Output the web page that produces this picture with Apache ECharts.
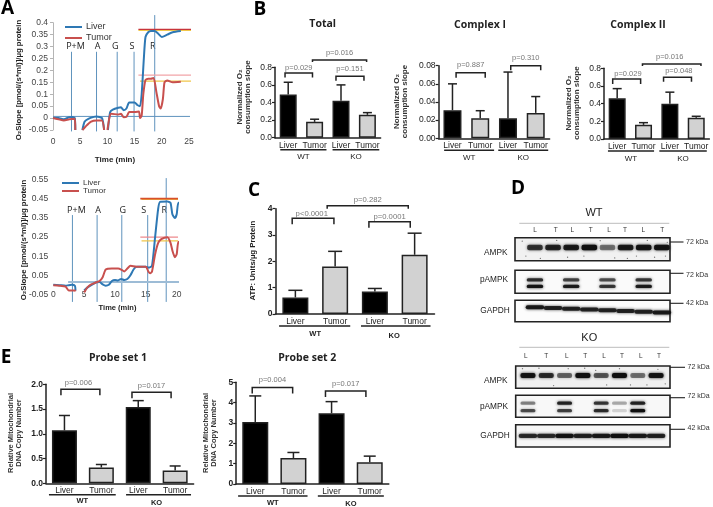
<!DOCTYPE html>
<html><head><meta charset="utf-8">
<style>html,body{margin:0;padding:0;background:#fff}#c{width:713px;height:507px}</style>
<script src="https://cdn.jsdelivr.net/npm/echarts@6/dist/echarts.min.js"></script>
</head><body><div id="c"></div>
<script>
// ---------- Panel A data ----------
const a1Liver=[[0,0],[1,0],[2,-0.005],[3,0.004],[3.6,0.005],[4,0],[4.1,-0.05],[4.2,null],[5.4,-0.05],[5.8,-0.015],[6.5,-0.003],[7.5,0.005],[8,0.007],[9,0],[9.4,-0.05],[9.6,null],[10.1,-0.05],[10.5,0.025],[11,0.035],[12,0.043],[12.5,0.045],[13,0.033],[13.5,0.04],[14,0.065],[15,0.065],[15.5,0.055],[16,0.05],[16.3,0.1],[16.7,0.25],[17,0.34],[17.5,0.36],[18,0.365],[18.7,0.365],[19.3,0.355],[20,0.34],[21,0.35],[22,0.36],[23.5,0.365]];
const a1Tumor=[[0,0],[1,-0.005],[2,-0.01],[3,-0.005],[4,-0.003],[4.1,-0.05],[4.2,null],[5.4,-0.05],[6,-0.035],[7,-0.015],[8,-0.01],[9,-0.01],[9.4,-0.05],[9.6,null],[10,-0.05],[10.4,0.005],[10.7,0.018],[12,0.015],[12.5,0.018],[13,0.003],[13.5,0.005],[14,0.025],[15,0.025],[15.8,0.028],[16,0],[16.3,0.01],[16.6,0.1],[17,0.16],[17.5,0.165],[18,0.165],[18.5,0.168],[19,0.11],[19.5,0.05],[19.8,0.04],[20.2,0.08],[20.5,0.15],[21,0.158],[22,0.15],[23.5,0.152]];
const a1Events=[[3.4,0.278],[8,0.278],[11.8,0.278],[14.9,0.278],[18.7,0.432]];
const a1EventNames=['P+M','A','G','S','R'];
const a2Liver=[[0,0],[1,-0.002],[2,-0.005],[2.5,-0.002],[3,0],[3.5,-0.005],[3.6,-0.03],[3.65,null],[5,-0.03],[5.5,-0.015],[6.5,0.005],[7,0.013],[7.5,0.015],[8,0.002],[8.5,-0.005],[9,0],[9.5,0.02],[10,0.025],[10.5,0.023],[11,0.03],[11.5,0.025],[12,0.03],[12.5,0.05],[13,0.08],[13.5,0.095],[15,0.095],[15.5,0.09],[16,0.1],[16.5,0.25],[17,0.4],[17.3,0.435],[18.5,0.437],[19,0.43],[19.3,0.37],[19.7,0.35],[20,0.37],[20.3,0.43],[21.5,0.43]];
const a2Tumor=[[0,-0.003],[1,-0.005],[2,-0.01],[2.5,-0.03],[3.5,-0.03],[3.6,-0.035],[3.65,null],[5,-0.04],[5.5,-0.015],[6,0],[7,0.013],[7.5,0.02],[8,0.04],[8.5,0.08],[9.5,0.085],[10.5,0.085],[11,0.08],[11.5,0.07],[12,0.085],[12.5,0.1],[13.5,0.095],[15,0.095],[15.4,0.07],[15.7,0.06],[16,0.07],[16.5,0.16],[17,0.22],[17.5,0.24],[18.5,0.25],[19,0.22],[19.3,0.18],[19.7,0.145],[20,0.16],[20.3,0.225],[21.5,0.228]];
const a2Events=[[3.1,0.366],[7.1,0.366],[11.1,0.366],[15.3,0.366],[18.3,0.56]];
const a2EventNames=['P+M','A','G','S','R'];
const a2TickLabels=[-0.05,0.05,0.15,0.25,0.35,0.45,0.55];

// ---------- Bar data ----------
const barCats=['Liver','Tumor','Liver','Tumor'];
const totalVals=[0.49,0.18,0.42,0.26],    totalTops=[0.63,0.21,0.6,0.285];
const cx1Vals=[0.031,0.022,0.022,0.028],  cx1Tops=[0.06,0.0304,0.073,0.046];
const cx2Vals=[0.46,0.16,0.4,0.24],       cx2Tops=[0.57,0.185,0.53,0.257];
const atpVals=[0.63,1.8,0.85,2.25],       atpTops=[0.9,2.38,0.97,3.07];
const p1Vals=[1.07,0.32,1.54,0.26],       p1Tops=[1.37,0.38,1.67,0.35];
const p2Vals=[3.05,1.28,3.48,1.07],       p2Tops=[4.33,1.55,4.05,1.37];

// ---------- Blot band intensities, per lane ----------
const wtAmpk=[0.75,0.85,0.9,1,0.5,0.9,0.95,0.95];
const wtPUp=[0.8,0,0.7,0,0.65,0,0.75,0];
const wtPLo=[0.95,0,0.9,0,0.75,0,0.9,0];
const wtGapdh=[0.9,0.85,0.85,0.85,0.85,0.85,0.85,0.9];
const koAmpk=[0.95,0.8,0.55,1,0.6,1,0.5,0.95];
const koPUp=[0.45,0,0.85,0,0.75,0.3,0.85,0];
const koPLo=[0.65,0,0.7,0,0.8,0.15,1,0];
const koGapdh=[0.8,0.8,0.95,0.85,0.9,1,0.9,0.85];
const laneLabels=['L','T','L','T','L','T','L','T'];
// dust specks seen on the AMPK membranes: [lane, depth]
const wtAmpkSpecks=[[-0.7,0.15],[-0.5,0.8],[0.3,0.9],[1.2,0.12],[1.8,0.85],[2.7,0.8],[3.6,0.13],[4.4,0.88],[5.1,0.9],[5.6,0.8],[6.2,0.12],[6.6,0.85],[7.2,0.8],[7.3,0.2]];
const koAmpkSpecks=[[-0.3,0.12],[0.6,0.1],[1.4,0.88],[2.2,0.12],[3.1,0.1],[3.7,0.2],[4.3,0.85],[5,0.12],[5.6,0.85],[6.5,0.85],[7.1,0.15],[7.5,0.8]];

const SANS='"Liberation Sans",Arial,sans-serif', HEAD='"Open Sans",sans-serif';
const grid=[],xAxis=[],yAxis=[],series=[],graphic=[],legend=[];
const BLUE='#2e78b4',RED='#c8504e',VL='#5f93bd';

function txt(text,x,y,font,fill,rot){graphic.push({type:'text',x,y,rotation:rot?Math.PI/2:0,silent:true,
  style:{text,font,fill:fill||'#222',textAlign:'center',textVerticalAlign:'middle'}});}
function hline(x1,x2,y,c,w){graphic.push({type:'line',silent:true,shape:{x1,y1:y,x2,y2:y},style:{stroke:c,lineWidth:w}});}

function lineSer(g,name,data,color,w,smooth){
  series.push({type:'line',name,xAxisIndex:g,yAxisIndex:g,data,showSymbol:false,smooth:smooth?0.2:false,clip:false,
    lineStyle:{color,width:w},itemStyle:{color},silent:true,connectNulls:false,z:smooth?3:2});
}
function linePanel(c){
  const g=grid.length;
  grid.push({left:c.left,top:c.top,width:c.width,height:c.height});
  xAxis.push({type:'value',gridIndex:g,min:0,max:c.xMax,interval:5,splitLine:{show:false},axisLine:{show:false},axisTick:{show:false},
    axisLabel:{color:'#444',fontSize:8.5,fontFamily:SANS,margin:c.xMargin}});
  yAxis.push({type:'value',gridIndex:g,min:-0.05,max:c.yMax,interval:0.05,splitLine:{show:false},
    axisLine:{show:c.yLine,onZero:false,lineStyle:{color:'#b5b5b5'}},axisTick:{show:c.yLine,length:3,lineStyle:{color:'#b5b5b5'}},
    axisLabel:{color:'#444',fontSize:8.5,fontFamily:SANS,margin:5,formatter:c.fmt}});
  c.events.forEach(e=>lineSer(g,'event',[[e[0],c.evLow],[e[0],e[1]]],VL,1));
  c.marks.forEach(m=>lineSer(g,'mark',[[m[0],m[2]],[m[1],m[2]]],m[3],m[4]||1.5));
  lineSer(g,'Liver',c.liver,BLUE,2,true);
  lineSer(g,'Tumor',c.tumor,RED,2,true);
  legend.push({left:c.lgX,top:c.lgY,orient:'vertical',data:['Liver','Tumor'],icon:'rect',itemWidth:17,itemHeight:2,itemGap:0,
    selectedMode:false,textStyle:{fontSize:c.lgFont,lineHeight:c.lgLine,height:c.lgLine,fontFamily:SANS,color:'#333',padding:[0,0,0,-1]},padding:0});
  c.names.forEach((n,i)=>{const xpx=c.left+c.width/c.xMax*c.events[i][0];txt(n,xpx+c.nameDx[i],c.nameY,'9px "Open Sans",sans-serif','#222');});
}

function barPanel(c){
  const g=grid.length,nameMax=c.max;
  grid.push({left:c.left,top:c.top,width:c.width,height:c.height});
  xAxis.push({type:'category',gridIndex:g,data:barCats,axisLine:{lineStyle:{color:'#222',width:1.5}},axisTick:{show:false},
    axisLabel:{color:'#222',fontSize:c.catFont||8.5,fontFamily:SANS,margin:c.catMargin||3,interval:0}});
  yAxis.push({type:'value',gridIndex:g,min:0,max:nameMax,interval:c.interval,splitLine:{show:false},
    axisLine:{show:true,lineStyle:{color:'#222',width:1.5}},axisTick:{show:true,length:3,lineStyle:{color:'#222',width:1.2}},
    axisLabel:{color:'#222',fontSize:c.yFont||8.5,fontFamily:SANS,margin:3,fontWeight:c.yBold?'bold':'normal',formatter:c.fmt}});
  series.push({type:'bar',name:'mean',xAxisIndex:g,yAxisIndex:g,barWidth:c.barW,silent:true,
    data:c.vals.map((v,i)=>({value:v,itemStyle:{color:i%2?'#d2d2d2':'#000',borderColor:'#222',borderWidth:1.5}}))});
  series.push({type:'custom',name:'annot',xAxisIndex:g,yAxisIndex:g,silent:true,clip:false,z:5,data:[[0,0]],encode:{x:0,y:1},
    renderItem:(p,api)=>{
      const kids=[];const a=api.coord([0,0]),step=api.coord([1,0])[0]-a[0];const st={stroke:'#222',lineWidth:1.5,fill:'none'};
      c.vals.forEach((v,i)=>{const b=api.coord([i,v]),t=api.coord([i,c.tops[i]]);
        kids.push({type:'line',shape:{x1:b[0],y1:b[1],x2:t[0],y2:t[1]},style:st});
        kids.push({type:'line',shape:{x1:t[0]-c.capW/2,y1:t[1],x2:t[0]+c.capW/2,y2:t[1]},style:st});});
      c.brackets.forEach(k=>{const y=api.coord([0,k.v])[1],x1=a[0]+k.f*step,x2=a[0]+k.t*step;
        kids.push({type:'polyline',shape:{points:[[x1,y+k.d],[x1,y],[x2,y],[x2,y+k.d]]},style:st});
        kids.push({type:'text',style:{text:k.text,x:(x1+x2)/2+(k.dx||0),y:y-k.up,fill:'#777',font:(c.pFont||7.5)+'px '+SANS,textAlign:'center',textVerticalAlign:'middle'}});});
      c.groups.forEach(k=>{const y=a[1]+c.gY,x1=a[0]+k.f*step,x2=a[0]+k.t*step;
        kids.push({type:'line',shape:{x1,y1:y,x2,y2:y},style:{stroke:'#222',lineWidth:1.6}});
        kids.push({type:'text',style:{text:k.text,x:(x1+x2)/2+(k.dx||0),y:y+k.up,fill:'#222',font:(c.gBold?'bold ':'')+(c.gFont||8)+'px '+SANS,textAlign:'center',textVerticalAlign:'middle'}});});
      return {type:'group',children:kids};
    }});
}

function blot(box,lo,hi,bands,bandW,bandH,bg,specks){
  const g=grid.length;
  grid.push({left:box[0],top:box[1],width:box[2]-box[0],height:box[3]-box[1],show:true,borderColor:'#222',borderWidth:1.6,backgroundColor:bg});
  xAxis.push({type:'value',gridIndex:g,min:lo,max:hi,show:false});
  yAxis.push({type:'value',gridIndex:g,min:0,max:1,inverse:true,show:false});
  const data=[];
  bands.forEach(b=>b.vals.forEach((v,i)=>{if(v>0)data.push([i,b.y+(b.slope||0)*i,v]);}));
  series.push({type:'custom',name:'blot',xAxisIndex:g,yAxisIndex:g,silent:true,data,encode:{x:0,y:1},
    renderItem:(p,api)=>{const c=api.coord([api.value(0),api.value(1)]);const a=Math.min(1,api.value(2));
      const col='rgba(15,15,15,'+a.toFixed(2)+')';
      return {type:'rect',shape:{x:c[0]-bandW/2,y:c[1]-bandH/2,width:bandW,height:bandH,r:2},style:{fill:col,shadowBlur:3,shadowColor:col}};}});
  if(specks)series.push({type:'scatter',name:'speck',xAxisIndex:g,yAxisIndex:g,silent:true,data:specks,symbolSize:1.3,itemStyle:{color:'#555'}});
}

// ---------- Panel A ----------
linePanel({left:53,top:22.7,width:136,height:107.3,xMax:25,yMax:0.4,xMargin:7,yLine:true,liver:a1Liver,tumor:a1Tumor,
  events:a1Events,evLow:-0.056,names:a1EventNames,nameDx:[4,1,-2,-2,-2],nameY:46.5,
  marks:[[0,27,0.007,'#5f93bd',1],[15.7,27.5,0.368,'#f0c64a',1.2],[15.7,27,0.372,'#c8343a',1.4],[15.7,27,0.18,'#f2a4a8',1.4],[16,27.5,0.155,'#f0c64a',1.2]],
  lgX:65,lgY:21.5,lgLine:11,lgFont:9,fmt:v=>String(+v.toFixed(2))});
txt('O₂Slope [pmol/(s*ml)]/µg protein',18.5,80,'bold 7.8px '+SANS,'#222',true);
txt('Time (min)',115,159.5,'bold 8px '+SANS,'#222');

linePanel({left:53.3,top:180,width:123.4,height:114.3,xMax:20,yMax:0.55,xMargin:-4,yLine:false,liver:a2Liver,tumor:a2Tumor,
  events:a2Events,evLow:-0.09,names:a2EventNames,nameDx:[4,1,1,-4,-2],nameY:210.5,
  marks:[[2.4,24.3,0.015,'#9dbcd6',2],[14.3,25.1,0.448,'#f0c64a',1.2],[14.1,24.5,0.452,'#d8502a',1.6],[14.1,24.4,0.25,'#ee8a8e',1.2],[14.3,25,0.23,'#f0c64a',1.2]],
  lgX:62,lgY:179,lgLine:8,lgFont:8,
  fmt:v=>a2TickLabels.some(t=>Math.abs(t-v)<1e-6)?String(+v.toFixed(2)):''});
txt('O₂Slope [pmol/(s*ml)]/µg protein',23.5,240,'bold 7.8px '+SANS,'#222',true);
txt('Time (min)',117.5,307.5,'bold 7.5px '+SANS,'#222');

// ---------- Panel B ----------
const fx1=v=>v.toFixed(1);
const yn='Normalized O₂\nconsumption slope';
barPanel({left:275,top:67.3,width:105.6,height:70.4,max:0.8,interval:0.2,fmt:fx1,vals:totalVals,tops:totalTops,barW:17,capW:9,gY:12,
  brackets:[{f:-0.12,t:0.92,v:0.735,d:4.5,up:5.3,text:'p=0.029'},{f:0.92,t:2.97,v:0.883,d:2,up:7.3,text:'p=0.016'},{f:1.81,t:2.87,v:0.698,d:4.5,up:7.3,text:'p=0.151'}],
  groups:[{f:-0.3,t:1.45,text:'WT',up:7.5},{f:1.68,t:3.45,text:'KO',up:7.5}]});
txt(yn,244,97,'bold 8px '+SANS,'#333',true);
barPanel({left:438.6,top:65.7,width:111,height:72.6,max:0.08,interval:0.02,fmt:v=>v.toFixed(2),vals:cx1Vals,tops:cx1Tops,barW:18,capW:9,gY:12,
  brackets:[{f:0.13,t:1.18,v:0.0723,d:5,up:7.7,text:'p=0.887'},{f:2.1,t:3.18,v:0.08,d:4.5,up:8,text:'p=0.310'}],
  groups:[{f:-0.3,t:1.5,text:'WT',up:7.5},{f:1.65,t:3.45,text:'KO',up:7.5}]});
txt(yn,400.5,101.5,'bold 8px '+SANS,'#333',true);
barPanel({left:604,top:68.3,width:105.4,height:70.7,max:0.8,interval:0.2,fmt:fx1,vals:cx2Vals,tops:cx2Tops,barW:17,capW:9,gY:12,
  brackets:[{f:-0.17,t:0.89,v:0.679,d:5,up:5.3,dx:1.3,text:'p=0.029'},{f:1.76,t:2.82,v:0.698,d:4.5,up:6,dx:1.3,text:'p=0.048'},{f:0.96,t:3.18,v:0.848,d:2,up:7,dx:-2,text:'p=0.016'}],
  groups:[{f:-0.35,t:1.4,text:'WT',up:7.5},{f:1.6,t:3.4,text:'KO',up:7.5}]});
txt(yn,572.5,103,'bold 8px '+SANS,'#333',true);

// ---------- Panel C ----------
barPanel({left:275.5,top:208.7,width:159,height:105.3,max:4,interval:1,fmt:v=>String(v),yBold:true,vals:atpVals,tops:atpTops,barW:26,capW:14,catMargin:3,gY:12,
  brackets:[{f:-0.08,t:0.97,v:3.635,d:6,up:4.3,dx:-1.3,text:'p<0.0001'},{f:0.8,t:2.84,v:4.11,d:3,up:6.4,text:'p=0.282'},{f:1.85,t:2.89,v:3.5,d:6,up:4.7,text:'p=0.0001'}],
  groups:[{f:-0.41,t:1.38,text:'WT',up:7.5,dx:0.5},{f:1.65,t:3.4,text:'KO',up:9.7,dx:-1.5}],gBold:true,gFont:7.5,pFont:7.7});
txt('ATP: Units/µg Protein',253,260.7,'bold 7.8px '+SANS,'#222',true);

// ---------- Panel E ----------
barPanel({left:46,top:384.3,width:147.6,height:99,max:2,interval:0.5,fmt:fx1,yBold:true,vals:p1Vals,tops:p1Tops,barW:25,capW:11,catMargin:3,gY:11.4,
  brackets:[{f:-0.095,t:0.96,v:1.9,d:6,up:6,dx:-2,text:'p=0.006'},{f:1.83,t:2.89,v:1.84,d:6,up:6,text:'p=0.017'}],
  groups:[{f:-0.42,t:1.39,text:'WT',up:6.6},{f:1.67,t:3.43,text:'KO',up:8,dx:-2}],gBold:true,gFont:7.5});
txt('Relative Mitochondrial\nDNA Copy Number',14.5,433,'bold 7.5px '+SANS,'#333',true);
barPanel({left:236.2,top:382.3,width:152.6,height:101.7,max:5,interval:1,fmt:v=>String(v),yBold:true,vals:p2Vals,tops:p2Tops,barW:26,capW:12,catMargin:3,gY:12,
  brackets:[{f:-0.08,t:0.98,v:4.75,d:6,up:7,text:'p=0.004'},{f:1.84,t:2.9,v:4.57,d:6,up:7,text:'p=0.017'}],
  groups:[{f:-0.45,t:1.37,text:'WT',up:6.7},{f:1.64,t:3.37,text:'KO',up:8}],gBold:true,gFont:7.5});
txt('Relative Mitochondrial\nDNA Copy Number',209.5,433,'bold 7.5px '+SANS,'#333',true);

// ---------- Panel D ----------
blot([515,237.7,670,260.7],-1.1,7.45,[{vals:wtAmpk,y:0.43}],15.5,5.5,'#f1f1f1',wtAmpkSpecks);
blot([515,270.3,670,293.3],-1.1,7.45,[{vals:wtPUp,y:0.42},{vals:wtPLo,y:0.7}],16.5,3.2,'#fafafa');
blot([515,300.3,670,321.7],-1.1,7.45,[{vals:wtGapdh,y:0.33,slope:0.035}],18.5,4,'#fcfcfc');
blot([515.7,366,670,388.3],-0.67,7.76,[{vals:koAmpk,y:0.43}],15,5,'#f0f0f0',koAmpkSpecks);
blot([515.7,395.3,670,417.3],-0.67,7.76,[{vals:koPUp,y:0.36},{vals:koPLo,y:0.7}],15,3.2,'#f8f8f8');
blot([515.7,424.7,670,447],-0.67,7.76,[{vals:koGapdh,y:0.5}],18.5,4.2,'#f6f6f6');
const bf='8.3px '+SANS;
[['AMPK',495.7,252.7],['pAMPK',494,279.3],['GAPDH',495,311],['AMPK',495.7,380.7],['pAMPK',494,406.7],['GAPDH',495,436]].forEach(r=>txt(r[0],r[1],r[2],bf,'#222'));
txt('WT',594,213,'11px '+SANS,'#222');txt('KO',589.3,338.3,'11px '+SANS,'#222');
hline(519.3,669.3,223.3,'#bcbcbc',1);hline(519.3,669.3,347.3,'#bcbcbc',1);
[535,555.7,572.3,590.7,609,625,643.3,662.3].forEach((x,i)=>txt(laneLabels[i],x,230,'6.5px '+SANS,'#333'));
[525.7,546.3,566.7,585.3,604,622,640.7,659].forEach((x,i)=>txt(laneLabels[i],x,356.7,'6.5px '+SANS,'#333'));
[[670,683.5,242,'72 kDa',242],[670,683.5,273.3,'72 kDa',275],[670,683.5,303.3,'42 kDa',303],
 [670,685,367.3,'72 kDa',367.3],[670,685,397.7,'72 kDa',396],[670,685,429.3,'42 kDa',428]].forEach(r=>{
  hline(r[0],r[1],r[2],'#222',1.1);
  graphic.push({type:'text',x:r[1]+2.5,y:r[4],silent:true,style:{text:r[3],font:'7px '+SANS,fill:'#333',textAlign:'left',textVerticalAlign:'middle'}});
});

// ---------- Headings ----------
const hd='bold 10.5px '+HEAD;
txt('Total',322.7,24.3,hd);txt('Complex I',480,24.7,hd);txt('Complex II',638,24.7,hd);
txt('Probe set 1',118,358.3,hd);txt('Probe set 2',307.3,358.3,hd);
const big='bold 19px '+HEAD;
txt('A',7.5,8.5,big,'#000');txt('B',260,10,big,'#000');txt('C',254,191,big,'#000');txt('D',518,189,big,'#000');txt('E',6,358,big,'#000');

const chart=echarts.init(document.getElementById('c'),null,{renderer:'canvas'});
chart.setOption({animation:false,backgroundColor:'#fff',tooltip:{show:false},grid,xAxis,yAxis,series,legend,graphic:{elements:graphic}});
</script></body></html>
